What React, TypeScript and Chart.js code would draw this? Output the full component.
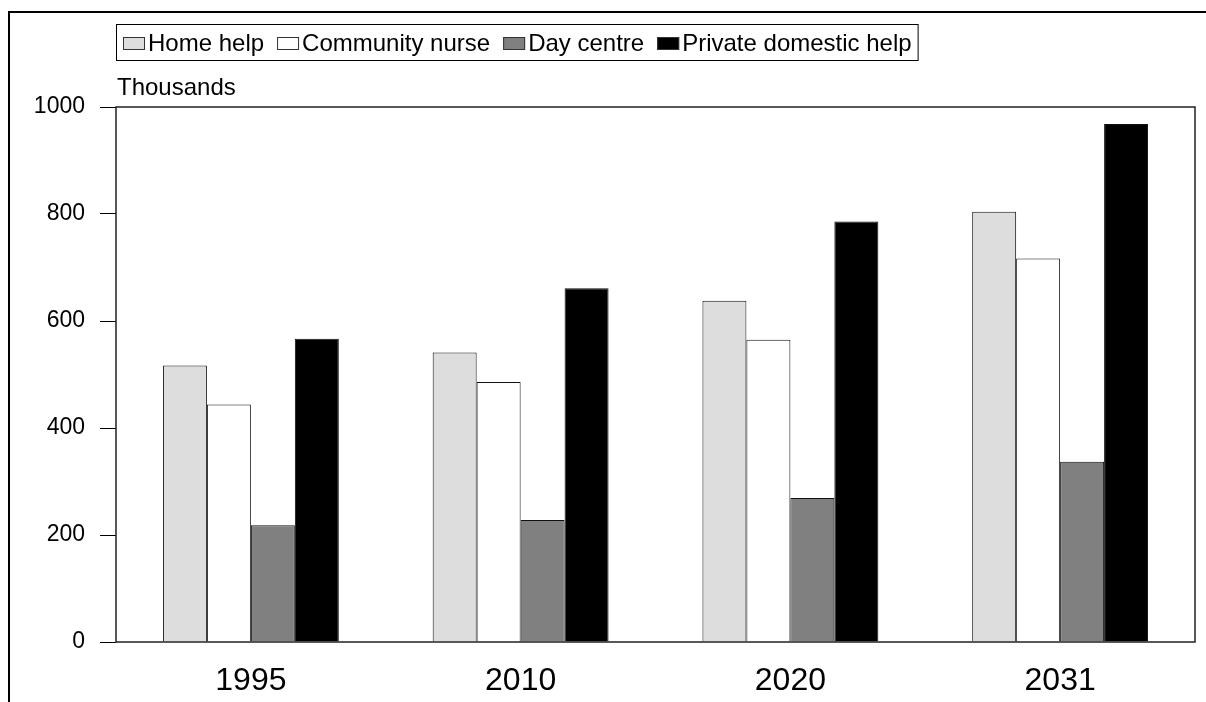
import React, { useEffect, useRef } from "react";
import { Chart, registerables } from "chart.js";

Chart.register(...registerables);

const categories = ["1995", "2010", "2020", "2031"];
const homeHelp = [517, 541, 638, 804];
const communityNurse = [444, 486, 565, 717];
const dayCentre = [218, 228, 269, 337];
const privateDomesticHelp = [567, 661, 786, 968];
const yMin = 0;
const yMax = 1000;
const yStep = 200;
const unitLabel = "Thousands";

const FONT = '"Liberation Sans", Arial, sans-serif';

const framePlugin = {
  id: "framePlugin",
  afterDraw(chart: any) {
    const ctx = chart.ctx;
    const a = chart.chartArea;
    ctx.save();
    // outer frame (left + top visible)
    ctx.strokeStyle = "#000";
    ctx.lineWidth = 2;
    ctx.beginPath();
    ctx.moveTo(9, 760);
    ctx.lineTo(9, 12);
    ctx.lineTo(1260, 12);
    ctx.stroke();
    // plot area border
    ctx.strokeStyle = "#222";
    ctx.lineWidth = 1.5;
    ctx.strokeRect(a.left, a.top, a.right - a.left, a.bottom - a.top);
    // legend
    ctx.font = "24px " + FONT;
    ctx.textBaseline = "alphabetic";
    ctx.textAlign = "left";
    let x = 123;
    let end = x;
    chart.data.datasets.forEach((ds: any) => {
      ctx.fillStyle = ds.backgroundColor;
      ctx.fillRect(x, 37, 22, 13);
      ctx.strokeStyle = "#333";
      ctx.lineWidth = 1;
      ctx.strokeRect(x + 0.5, 37.5, 21, 12);
      ctx.fillStyle = "#000";
      ctx.fillText(ds.label, x + 25, 51);
      const w = ctx.measureText(ds.label).width;
      end = x + 25 + w;
      x = end + 13;
    });
    ctx.strokeStyle = "#000";
    ctx.lineWidth = 1;
    ctx.strokeRect(116.5, 24.5, end + 6 - 116, 36);
    // unit label
    ctx.fillStyle = "#000";
    ctx.fillText(unitLabel, 117, 95);
    ctx.restore();
  },
};

export default function App() {
  const ref = useRef<HTMLCanvasElement | null>(null);
  useEffect(() => {
    if (!ref.current) return;
    const chart = new Chart(ref.current, {
      type: "bar",
      data: {
        labels: categories,
        datasets: [
          { label: "Home help", data: homeHelp, backgroundColor: "#dddddd" },
          { label: "Community nurse", data: communityNurse, backgroundColor: "#ffffff" },
          { label: "Day centre", data: dayCentre, backgroundColor: "#808080" },
          { label: "Private domestic help", data: privateDomesticHelp, backgroundColor: "#000000" },
        ].map((d) => ({
          ...d,
          borderColor: "#111",
          borderWidth: 1,
          categoryPercentage: 0.652,
          barPercentage: 1,
        })),
      },
      options: {
        animation: false,
        responsive: true,
        maintainAspectRatio: false,
        layout: { padding: { top: 107, right: 11, left: 0, bottom: 0 } },
        plugins: {
          legend: { display: false },
          tooltip: { enabled: false },
        },
        scales: {
          x: {
            grid: { display: false, drawTicks: false },
            border: { display: false },
            ticks: {
              color: "#000",
              font: { family: FONT, size: 32 },
              padding: 20,
              maxRotation: 0,
            },
            afterFit: (s: any) => {
              s.height = 60;
            },
          },
          y: {
            min: yMin,
            max: yMax,
            grid: {
              drawOnChartArea: false,
              drawTicks: true,
              tickLength: 16,
              color: "#000",
              lineWidth: 1,
            },
            border: { display: false },
            ticks: {
              stepSize: yStep,
              color: "#000",
              font: { family: FONT, size: 23 },
              padding: 15,
              callback: (v: any) => String(v),
            },
            afterFit: (s: any) => {
              s.width = 116;
            },
          },
        },
      },
      plugins: [framePlugin],
    });
    return () => chart.destroy();
  }, []);
  return (
    <div style={{ position: "absolute", left: 0, top: 0, width: 1206, height: 702, background: "#fff" }}>
      <canvas ref={ref} />
    </div>
  );
}
